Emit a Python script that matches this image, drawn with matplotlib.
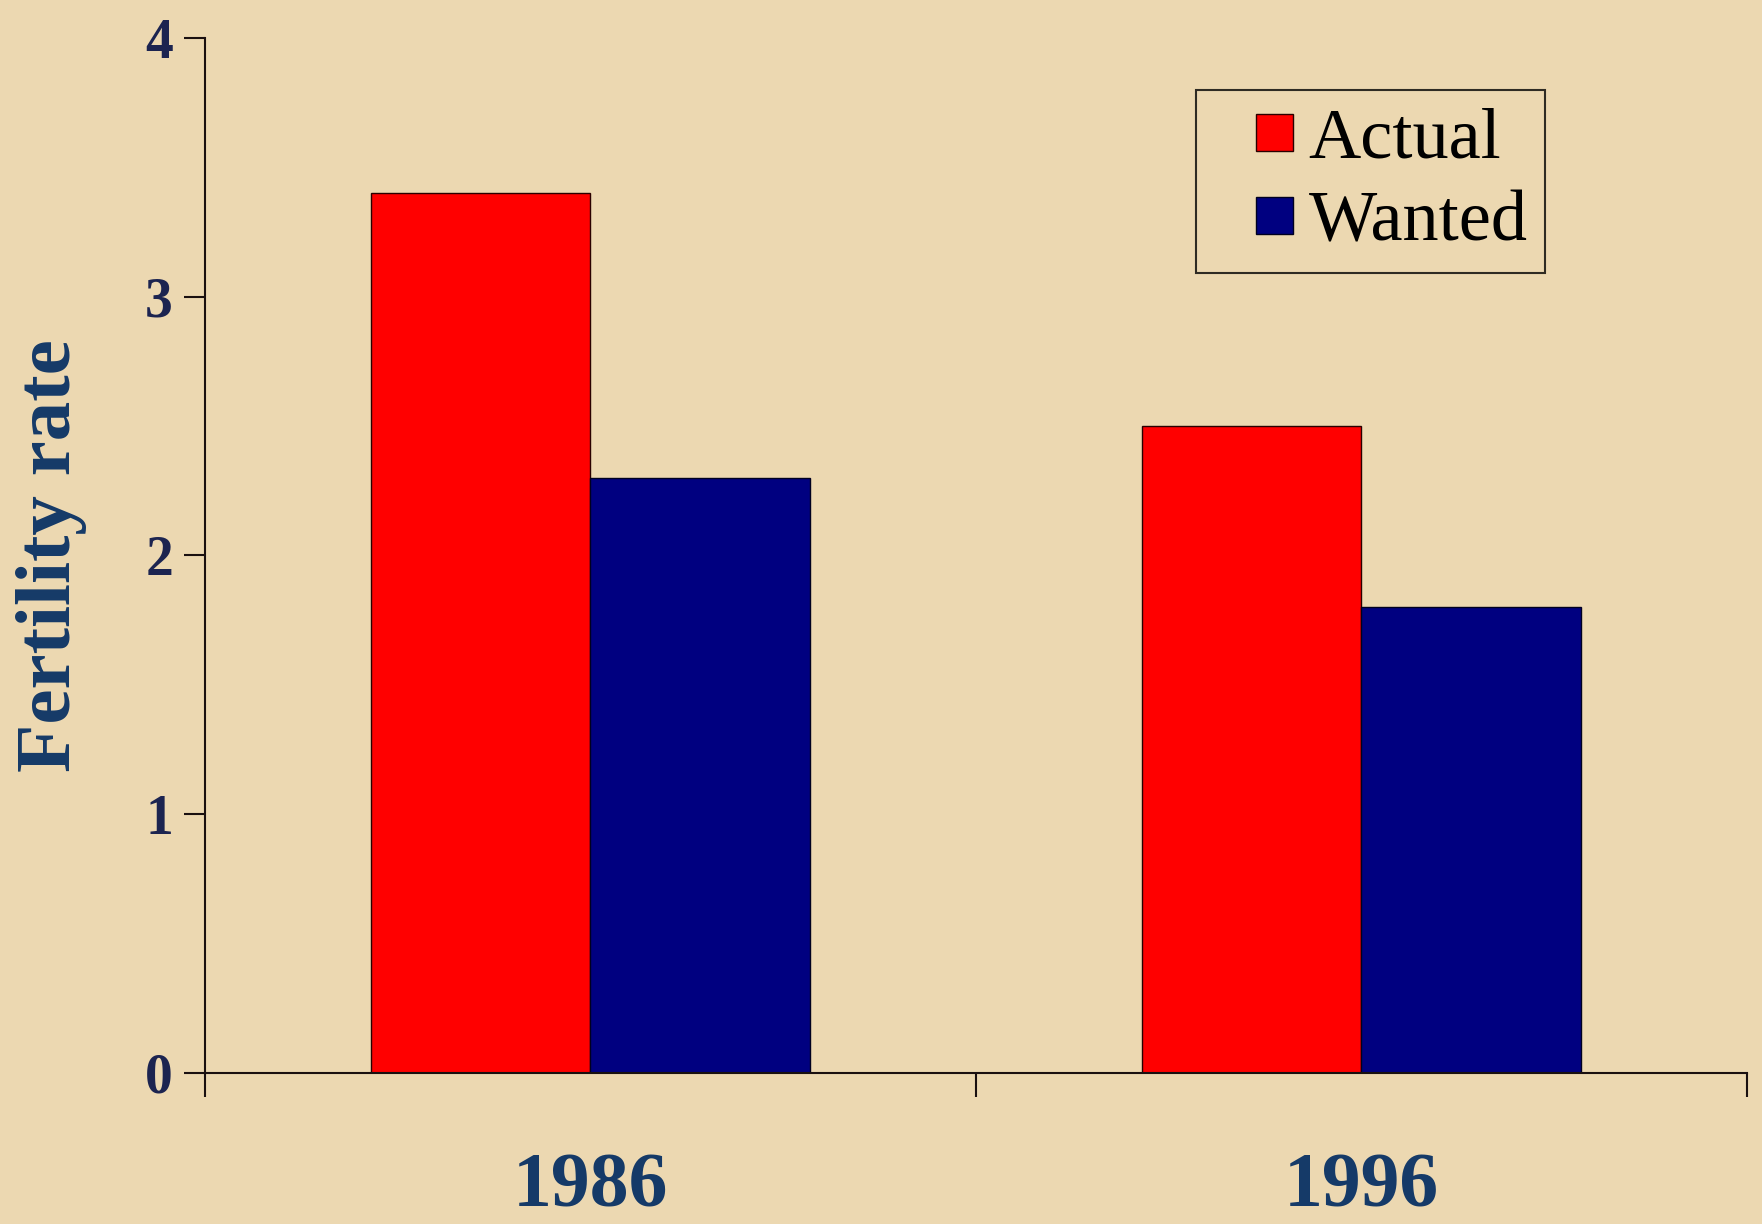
import matplotlib
matplotlib.use("Agg")
import matplotlib.pyplot as plt
from matplotlib.legend_handler import HandlerPatch
from matplotlib.patches import Rectangle
import numpy as np

years = ["1986", "1996"]
actual = [3.4, 2.5]
wanted = [2.3, 1.8]
y_ticks = [0, 1, 2, 3, 4]

bg = "#ECD8B1"
navy_text = "#153a68"

plt.rcParams['font.family'] = ['Liberation Serif', 'DejaVu Serif']

fig = plt.figure(figsize=(17.62, 12.24), dpi=100, facecolor=bg)
ax = fig.add_axes([0.1163, 0.1234, 0.8752, 0.8458])
ax.set_facecolor("none")

x = np.arange(len(years)) + 0.5
w = 0.285
b1 = ax.bar(x - w / 2, actual, w, color="#FF0000", edgecolor="#2a0000", linewidth=1.0, label="Actual")
b2 = ax.bar(x + w / 2, wanted, w, color="#000080", edgecolor="#000020", linewidth=1.0, label="Wanted")

ax.set_xlim(0, 2)
ax.set_ylim(0, 4)
ax.set_yticks(y_ticks)
ax.set_yticklabels([str(t) for t in y_ticks], fontsize=40, fontweight="bold", color="#1c2450")
ax.tick_params(axis="y", direction="out", length=15, width=1.5, color="#1a1010", pad=8)

ax.set_xticks(x)
ax.set_xticklabels(years, fontsize=56, fontweight="bold", color=navy_text)
ax.tick_params(axis="x", which="major", length=0, pad=57)
ax.set_xticks([0, 1, 2], minor=True)
ax.tick_params(axis="x", which="minor", direction="out", length=17, width=1.5, color="#1a1010")

for side in ["top", "right"]:
    ax.spines[side].set_visible(False)
for side in ["left", "bottom"]:
    ax.spines[side].set_color("#1a1010")
    ax.spines[side].set_linewidth(1.5)

ax.set_ylabel("Fertility rate", fontsize=57, fontweight="bold", color=navy_text, labelpad=42)


def square_handle(legend, orig_handle, xdescent, ydescent, width, height, fontsize):
    s = 0.51 * fontsize
    return Rectangle((width - xdescent - s, -ydescent + (height - s) / 2), s, s)


leg = ax.legend([b1.patches[0], b2.patches[0]], ["Actual", "Wanted"],
                loc="upper right", bbox_to_anchor=(0.869, 0.949), fontsize=52,
                frameon=True, fancybox=False, handlelength=1.1, handleheight=0.51,
                handletextpad=0.22, labelspacing=0.25, borderpad=0.24, borderaxespad=0,
                handler_map={Rectangle: HandlerPatch(patch_func=square_handle)})
leg.get_frame().set_facecolor("none")
leg.get_frame().set_edgecolor("black")
leg.get_frame().set_linewidth(1.5)

fig.savefig("out.png", dpi=100, facecolor=bg)
